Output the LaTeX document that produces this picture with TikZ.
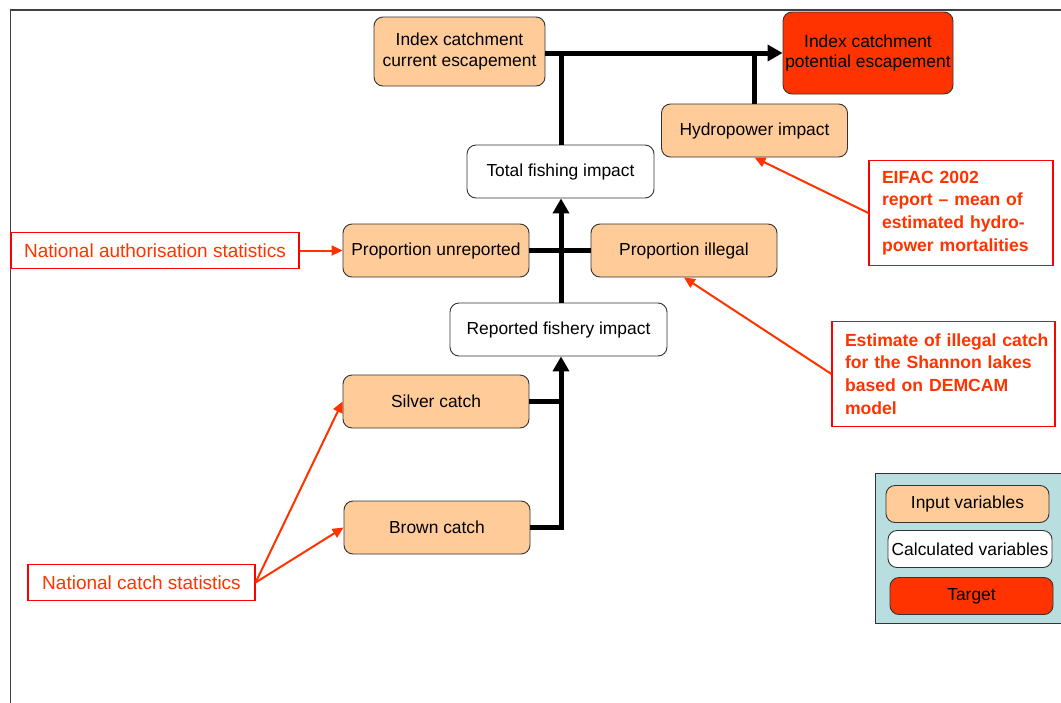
\documentclass[tikz,border=0pt]{standalone}
\usepackage{fontspec}
\setmainfont{Liberation Sans}
\usetikzlibrary{arrows.meta}
\definecolor{peach}{HTML}{FFCC99}
\definecolor{tgt}{HTML}{FF3300}
\definecolor{srcred}{HTML}{FF3300}
\definecolor{boxred}{HTML}{FF0000}
\definecolor{legbg}{HTML}{B8DEE0}
\newcommand\nfs{\fontsize{17.4}{20.7}\selectfont}
\newcommand\bfs{\fontsize{17.6}{22.8}\selectfont\bfseries}
\newcommand\rfs{\fontsize{19}{23}\selectfont}
\begin{document}
\begin{tikzpicture}[x=1pt,y=-1pt,
 var/.style={draw=black!80, line width=0.9pt, rounded corners=9pt, align=center, font=\nfs, inner sep=0pt, minimum height=53pt, minimum width=186pt},
 inp/.style={var, fill=peach},
 calc/.style={var, fill=white},
 tgtbox/.style={var, fill=tgt},
 srcbox/.style={draw=boxred, line width=1.2pt, text=srcred, inner xsep=0pt, inner ysep=0pt, minimum height=36pt, font=\rfs},
 notebox/.style={draw=boxred, line width=1.2pt, text=srcred, inner xsep=13pt, inner ysep=0pt, align=left, font=\bfs, minimum height=105pt},
 conn/.style={line width=5pt, black},
 conntip/.style={conn, -{Triangle[length=15pt,width=16pt]}},
 redarr/.style={draw=srcred, line width=2pt, -{Triangle[length=11pt,width=10pt]}},
 frameline/.style={draw=black!75, line width=1.4pt}]
\useasboundingbox (0,0) rectangle (1061,702);
% frame
\draw[frameline] (1070,10) -- (10.5,10) -- (10.5,710);
% legend
\node[draw=black!80, fill=legbg, line width=1pt, minimum width=195pt, minimum height=150pt, inner sep=0pt, anchor=north west] (leg) at (875,473) {};
\node[inp, minimum width=163pt, minimum height=37pt] (li) at (967.5,504) {Input variables};
\node[calc, minimum width=164pt, minimum height=37pt] (lc) at (970,549) {Calculated variables};
\node[tgtbox, minimum width=163pt, minimum height=37pt] (lt) at (971.5,596) {Target};
% main nodes
\node[inp, minimum width=171pt, minimum height=69pt] (cur) at (459.5,51.5) {Index catchment\\current escapement};
\node[tgtbox, minimum width=170pt, minimum height=82pt] (pot) at (868,53) {Index catchment\\potential escapement};
\node[inp] (hyd) at (754.5,130.5) {Hydropower impact};
\node[calc, minimum width=187pt] (tot) at (560.5,171.5) {Total fishing impact};
\node[inp] (unr) at (436,250.5) {Proportion unreported};
\node[inp] (ill) at (684,250.5) {Proportion illegal};
\node[calc, minimum width=217pt] (rep) at (558.5,329.5) {Reported fishery impact};
\node[inp] (sil) at (436,401.5) {Silver catch};
\node[inp] (brn) at (437,527.5) {Brown catch};
% source boxes
\node[srcbox, minimum width=288pt] (auth) at (155,250.5) {National authorisation statistics};
\node[srcbox, minimum width=227pt] (ncs) at (141.5,582.5) {National catch statistics};
\node[notebox, text width=158pt] (eif) at (961,213) {EIFAC 2002\\report -- mean of\\estimated hydro-\\power mortalities};
\node[notebox, text width=197pt] (est) at (943.5,374) {\mbox{Estimate of illegal catch}\\for the Shannon lakes\\based on DEMCAM\\model};
% black connectors
\coordinate (vx) at (561,0);
\draw[conntip] (cur.east |- pot.west) -- (pot.west);
\draw[conn] (tot.north -| vx) -- (vx |- pot.west);
\draw[conn] (hyd.north) -- (hyd.north |- pot.west);
\draw[conn] (unr.east) -- (ill.west);
\draw[conntip] (rep.north -| vx) -- (tot.south -| vx);
\draw[conn] (sil.east) -- (sil.east -| vx);
\draw[conntip] (brn.east) -| (rep.south -| vx);
% red arrows
\draw[redarr] (auth.east) -- (unr.west);
\draw[redarr] (ncs.east) -- (sil.west);
\draw[redarr] (ncs.east) -- (brn.west);
\draw[redarr] (eif.west) -- (hyd.south);
\draw[redarr] (est.west) -- (ill.south);
\end{tikzpicture}
\end{document}
